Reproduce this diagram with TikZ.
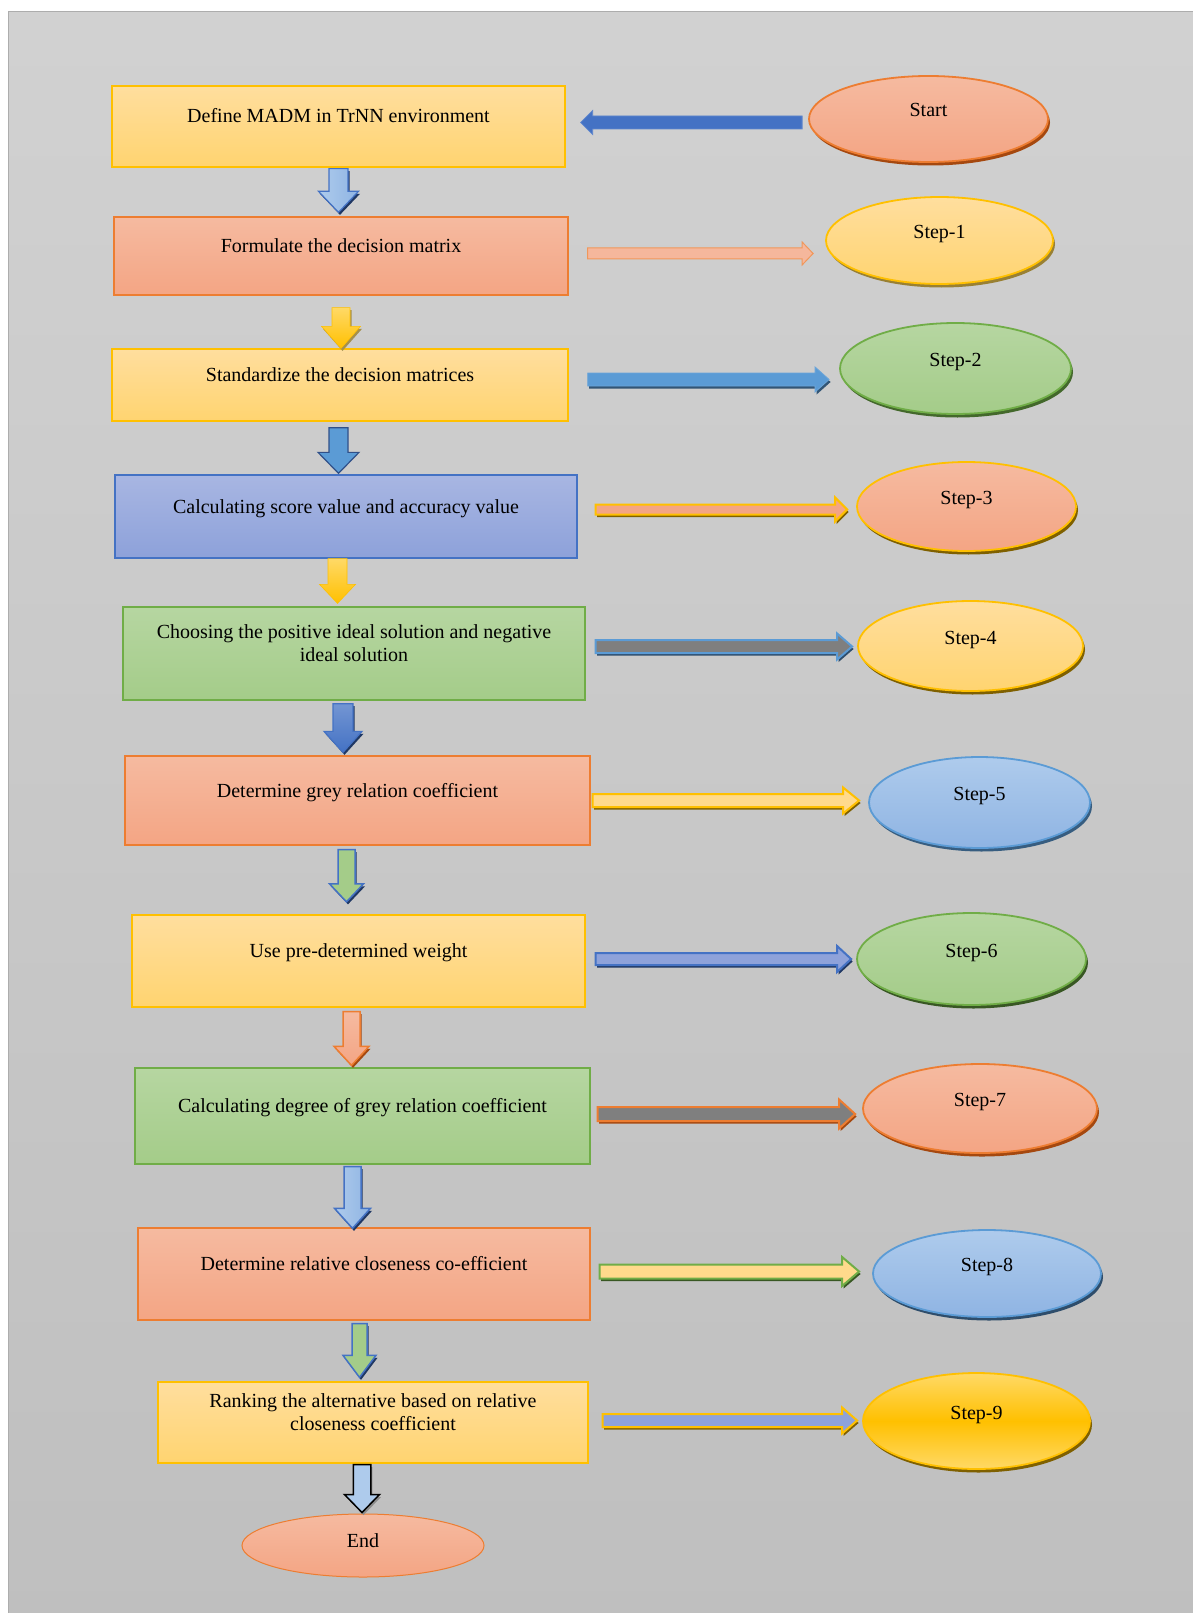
\documentclass[tikz,border=0pt]{standalone}
\usepackage{fontspec}
\setmainfont{Liberation Serif}
\usetikzlibrary{shapes.geometric,shadows,calc}

\definecolor{ylwfill}{HTML}{FFDA8C}
\definecolor{ylwtop}{HTML}{FFDE9E}
\definecolor{ylwbot}{HTML}{FFD470}
\definecolor{ylwline}{HTML}{FFC000}
\definecolor{salmtop}{HTML}{F5BAA0}
\definecolor{salmbot}{HTML}{F4A584}
\definecolor{salmline}{HTML}{ED7D31}
\definecolor{bluetop}{HTML}{A8B6E2}
\definecolor{bluebot}{HTML}{8DA1DA}
\definecolor{blueline}{HTML}{4472C4}
\definecolor{grntop}{HTML}{B6D6A1}
\definecolor{grnbot}{HTML}{A4CC89}
\definecolor{grnline}{HTML}{70AD47}
\definecolor{skytop}{HTML}{AECBEC}
\definecolor{skybot}{HTML}{8FB4E3}
\definecolor{skyline}{HTML}{5B9BD5}
\definecolor{goldtop}{HTML}{FFD966}
\definecolor{goldmid}{HTML}{FFC000}
\definecolor{navy}{HTML}{203864}
\definecolor{olive}{HTML}{7F6000}
\definecolor{rust}{HTML}{A5480F}
\definecolor{peri}{HTML}{8EA2DA}
\definecolor{midgray}{HTML}{7F7F7F}

\tikzset{
  shaft/.store in=\shaftw, head/.store in=\headw, headlen/.store in=\headl,
  shaft=6pt, head=12pt, headlen=14pt,
  rightarr/.style={to path={let \p1=(\tikztostart), \p2=(\tikztotarget) in
    (\x1,\y1+\shaftw) -- (\x2-\headl,\y1+\shaftw) -- (\x2-\headl,\y1+\headw) -- (\x2,\y1)
    -- (\x2-\headl,\y1-\headw) -- (\x2-\headl,\y1-\shaftw) -- (\x1,\y1-\shaftw) -- cycle}},
  leftarr/.style={to path={let \p1=(\tikztostart), \p2=(\tikztotarget) in
    (\x1,\y1+\shaftw) -- (\x2+\headl,\y1+\shaftw) -- (\x2+\headl,\y1+\headw) -- (\x2,\y1)
    -- (\x2+\headl,\y1-\headw) -- (\x2+\headl,\y1-\shaftw) -- (\x1,\y1-\shaftw) -- cycle}},
  downarr/.style={to path={let \p1=(\tikztostart), \p2=(\tikztotarget) in
    (\x1-\shaftw,\y1) -- (\x1-\shaftw,\y2+\headl) -- (\x1-\headw,\y2+\headl) -- (\x1,\y2)
    -- (\x1+\headw,\y2+\headl) -- (\x1+\shaftw,\y2+\headl) -- (\x1+\shaftw,\y1) -- cycle}},
  shade/.style={drop shadow={shadow xshift=1.5pt,shadow yshift=-2.5pt,fill=#1,opacity=1}},
  oval/.style={drop shadow={shadow xshift=2pt,shadow yshift=-3.5pt,fill=#1,opacity=1}},
  box/.style={rectangle, inner sep=0pt, line width=1.3pt, align=center,
    text height=14pt, text depth=21pt},
  ybox/.style={box, draw=ylwline, top color=ylwtop, bottom color=ylwbot},
  sbox/.style={box, draw=salmline, top color=salmtop, bottom color=salmbot},
  bbox/.style={box, draw=blueline, top color=bluetop, bottom color=bluebot},
  gbox/.style={box, draw=grnline, top color=grntop, bottom color=grnbot},
  ell/.style={ellipse, inner sep=0pt, line width=1.8pt, text height=14pt, text depth=18pt},
  yell/.style={ell, draw=ylwline, top color=ylwtop, bottom color=ylwbot},
  sell/.style={ell, top color=salmtop, bottom color=salmbot},
  gell/.style={ell, draw=grnline, top color=grntop, bottom color=grnbot},
  bell/.style={ell, draw=skyline, top color=skytop, bottom color=skybot}
}

\begin{document}
\begin{tikzpicture}[x=1pt, y=-1pt, font=\fontsize{20}{23}\selectfont]
\useasboundingbox (0,0) rectangle (1193,1613);
\fill[white] (0,0) rectangle (1193,1613);
\fill[top color=black!18, bottom color=black!25] (8,12) rectangle (1193,1613);
\draw[black!32, line width=1pt] (8,1613) -- (8,12) -- (1193,12);

\node[ybox, minimum width=453pt, minimum height=81pt] (d1) at (338.5,126.5) {Define MADM in TrNN environment};
\node[sbox, minimum width=454pt, minimum height=78pt] (d2) at (341,256) {Formulate the decision matrix};
\node[ybox, minimum width=456pt, minimum height=72pt] (d3) at (340,385) {Standardize the decision matrices};
\node[bbox, minimum width=462pt, minimum height=83pt] (d4) at (346,516.5) {Calculating score value and accuracy value};
\node[gbox, minimum width=462pt, minimum height=93pt, text height=37pt] (d5) at (354,653.5) {Choosing the positive ideal solution and negative\\ideal solution};
\node[sbox, minimum width=465pt, minimum height=89pt] (d6) at (357.5,800.5) {Determine grey relation coefficient};
\node[ybox, minimum width=453pt, minimum height=92pt] (d7) at (358.5,961) {Use pre-determined weight};
\node[gbox, minimum width=455pt, minimum height=96pt] (d8) at (362.5,1116) {Calculating degree of grey relation coefficient};
\node[sbox, minimum width=452pt, minimum height=92pt] (d9) at (364,1274) {Determine relative closeness co-efficient};
\node[ybox, minimum width=430pt, minimum height=81pt, text height=37pt] (d10) at (373,1422.5) {Ranking the alternative based on relative\\closeness coefficient};

\node[sell, draw=salmline, oval=rust, minimum width=239pt, minimum height=86pt] (st) at (928.5,119) {Start};
\node[yell, oval=olive!80, minimum width=227pt, minimum height=87pt] (s1) at (939.5,240.5) {Step-1};
\node[gell, oval=grnline!60!black, minimum width=231pt, minimum height=91pt] (s2) at (955.5,368.5) {Step-2};
\node[sell, draw=ylwline, oval=olive, minimum width=219pt, minimum height=89pt] (s3) at (966.5,506.5) {Step-3};
\node[yell, oval=olive, minimum width=225pt, minimum height=90pt] (s4) at (970.5,646) {Step-4};
\node[bell, oval=skyline!60!black, minimum width=221pt, minimum height=91pt] (s5) at (979.5,802.5) {Step-5};
\node[gell, oval=grnline!50!black, minimum width=229pt, minimum height=92pt] (s6) at (971.5,959) {Step-6};
\node[sell, draw=salmline, oval=rust, minimum width=234pt, minimum height=89pt] (s7) at (980,1108.5) {Step-7};
\node[bell, oval=skyline!50!black, minimum width=228pt, minimum height=87pt] (s8) at (987,1273.5) {Step-8};
\node[ell, draw=ylwline, top color=goldtop, bottom color=goldtop, middle color=goldmid, oval=olive, minimum width=227pt, minimum height=96pt] (s9) at (976.5,1421) {Step-9};
\node[ell, draw=salmline, line width=1pt, top color=salmtop, bottom color=salmbot, text depth=11pt, minimum width=242pt, minimum height=63pt] (en) at (363,1545.5) {End};

\draw[leftarr, shaft=6.5pt, head=12pt, headlen=12pt, draw=blueline!85!white, fill=blueline, line width=0.8pt] ([xshift=-6pt,yshift=-3.5pt]st.west) to ([xshift=15pt]d1.east);
\draw[rightarr, shaft=5.5pt, head=11.5pt, headlen=11pt, draw=salmline!80!white, fill=salmtop!85!salmbot, line width=1pt] ([xshift=19pt,yshift=2.5pt]d2.east) to ([xshift=-12pt]s1.west);
\draw[rightarr, shaft=6.5pt, head=12.5pt, headlen=14pt, draw=skyline!90!white, fill=skyline, line width=0.8pt, shade=skyline!55!black] ([xshift=19pt,yshift=5.5pt]d3.east) to ([xshift=-10pt]s2.west);
\draw[rightarr, shaft=5pt, head=12pt, headlen=12pt, draw=ylwline, fill=salmbot, line width=2pt, shade=olive] ([xshift=18pt,yshift=7pt]d4.east) to ([xshift=-9pt]s3.west);
\draw[rightarr, shaft=6.5pt, head=13pt, headlen=15pt, draw=skyline, fill=midgray, line width=2pt, shade=skyline!50!black] ([xshift=10pt,yshift=7pt]d5.east) to ([xshift=-5pt]s4.west);
\draw[rightarr, shaft=6.5pt, head=13pt, headlen=16pt, draw=ylwline, fill=ylwfill, line width=2pt, shade=olive] ([xshift=2pt]d6.east) to ([xshift=-9pt]s5.west);
\draw[rightarr, shaft=6pt, head=13pt, headlen=14pt, draw=blueline, fill=peri, line width=2pt, shade=navy] ([xshift=10pt,yshift=2pt]d7.east) to ([xshift=-5pt]s6.west);
\draw[rightarr, shaft=7pt, head=14.5pt, headlen=16pt, draw=salmline, fill=midgray, line width=2pt, shade=rust] ([xshift=7pt,yshift=2pt]d8.east) to ([xshift=-7pt]s7.west);
\draw[rightarr, shaft=7pt, head=14.5pt, headlen=17pt, draw=grnline, fill=ylwfill, line width=2pt, shade=grnline!50!black] ([xshift=9pt,yshift=2.5pt]d9.east) to ([xshift=-13pt]s8.west);
\draw[rightarr, shaft=6.5pt, head=13pt, headlen=15pt, draw=ylwline, fill=peri, line width=2pt, shade=olive] ([xshift=14pt,yshift=2pt]d10.east) to ([xshift=-5pt]s9.west);

\draw[downarr, shaft=9.5pt, head=20pt, headlen=21pt, draw=blueline, left color=skytop, right color=skybot, line width=1.2pt, shade=navy] ([yshift=-1pt]d1.south) to ([yshift=4pt]d2.north);
\draw[downarr, shaft=9pt, head=19.5pt, headlen=22pt, draw=ylwline, top color=goldtop, bottom color=goldmid, line width=0.6pt, shade=olive!70] ([yshift=-12pt]d2.south) to (d3.north);
\draw[downarr, shaft=9.5pt, head=20.5pt, headlen=21pt, draw=blueline!70!black, fill=skyline, line width=1.2pt] ([xshift=-1.5pt,yshift=-6pt]d3.south) to ([yshift=1pt]d4.north);
\draw[downarr, shaft=9.5pt, head=18pt, headlen=19pt, draw=goldmid, top color=goldtop, bottom color=goldmid, line width=0.6pt] ([xshift=-8.5pt]d4.south) to ([yshift=3pt]d5.north);
\draw[downarr, shaft=10pt, head=19pt, headlen=21pt, draw=blueline, top color=blueline!75!white, bottom color=blueline, line width=1.2pt, shade=navy] ([xshift=-11pt,yshift=-3pt]d5.south) to ([yshift=3pt]d6.north);
\draw[downarr, shaft=8.5pt, head=17pt, headlen=18pt, draw=blueline, fill=grnbot, line width=1.5pt, shade=navy] ([xshift=-11pt,yshift=-4pt]d6.south) to ([yshift=12.5pt]d7.north);
\draw[downarr, shaft=8.5pt, head=17.5pt, headlen=19pt, draw=salmline, top color=salmtop, bottom color=salmbot, line width=1.5pt, shade=rust] ([xshift=-7pt,yshift=-4pt]d7.south) to ([yshift=2pt]d8.north);
\draw[downarr, shaft=8.5pt, head=18pt, headlen=20pt, draw=blueline, left color=skytop, right color=skybot, line width=1.5pt, shade=navy] ([xshift=-10pt,yshift=-2pt]d8.south) to ([yshift=-1pt]d9.north);
\draw[downarr, shaft=7.5pt, head=16.5pt, headlen=22pt, draw=blueline, fill=grnbot, line width=1.5pt, shade=navy] ([xshift=-4.5pt,yshift=-3pt]d9.south) to ([yshift=4pt]d10.north);
\draw[downarr, shaft=8.75pt, head=17.5pt, headlen=18pt, draw=black, fill=skytop, line width=1.5pt, shade=black!45] ([xshift=-11pt,yshift=-1pt]d10.south) to ([yshift=1pt]en.north);
\end{tikzpicture}
\end{document}
